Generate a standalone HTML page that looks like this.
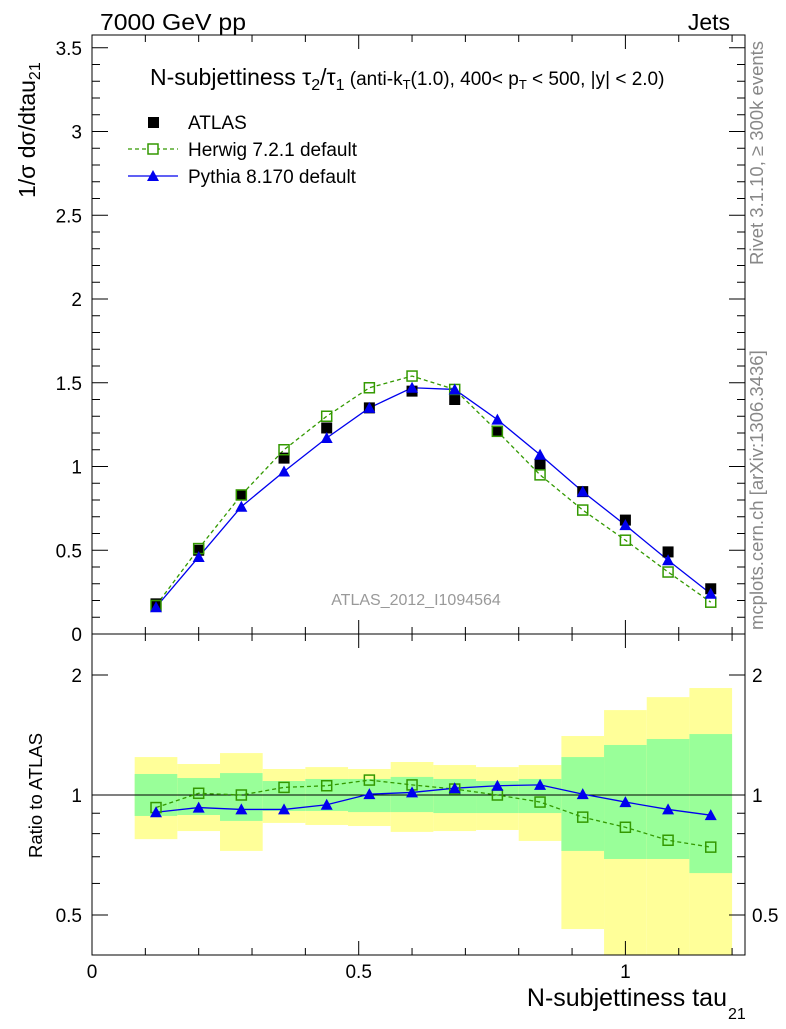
<!DOCTYPE html>
<html><head><meta charset="utf-8"><style>
body{margin:0;background:#fff;}
svg text{font-family:"Liberation Sans",sans-serif;}
</style></head><body>
<svg id="c" width="786" height="1024" xmlns="http://www.w3.org/2000/svg">
<g id="bands"></g><g id="grid"></g><g id="series"></g>
<text x="100" y="30" font-size="23" textLength="146" lengthAdjust="spacingAndGlyphs">7000 GeV pp</text>
<text x="730" y="30" font-size="23" text-anchor="end">Jets</text>
<text x="150" y="85" font-size="23">N-subjettiness τ<tspan font-size="16" dy="5">2</tspan><tspan dy="-5">/τ</tspan><tspan font-size="16" dy="5">1</tspan><tspan font-size="19" dy="-5"> (anti-k</tspan><tspan font-size="13" dy="4">T</tspan><tspan font-size="19" dy="-4">(1.0), 400&lt; p</tspan><tspan font-size="13" dy="4">T</tspan><tspan font-size="19" dy="-4"> &lt; 500, |y| &lt; 2.0)</tspan></text>
<rect x="148" y="117" width="11" height="11" fill="#000"/>
<text x="188" y="129" font-size="19">ATLAS</text>
<line x1="128" y1="149" x2="178" y2="149" stroke="#339900" stroke-dasharray="4,3" stroke-width="1.3"/>
<rect x="148" y="144" width="10" height="10" fill="#fff" stroke="#339900" stroke-width="1.5"/>
<text x="188" y="156" font-size="19">Herwig 7.2.1 default</text>
<line x1="128" y1="176" x2="178" y2="176" stroke="#0000ee" stroke-width="1.3"/>
<polygon points="153,170 159,181 147,181" fill="#0000ee"/>
<text x="188" y="183" font-size="19">Pythia 8.170 default</text>
<text x="416" y="605" font-size="16" fill="#999" text-anchor="middle">ATLAS_2012_I1094564</text>
<text transform="translate(763,265) rotate(-90)" font-size="18.5" fill="#888">Rivet 3.1.10, ≥ 300k events</text>
<text transform="translate(763,630) rotate(-90)" font-size="18.5" fill="#888">mcplots.cern.ch [arXiv:1306.3436]</text>
<text transform="translate(35,198) rotate(-90)" font-size="23">1/σ dσ/dtau<tspan font-size="16" dy="5">21</tspan></text>
<text transform="translate(42,858) rotate(-90)" font-size="18.5">Ratio to ATLAS</text>
<text x="727" y="1006" font-size="25" text-anchor="end">N-subjettiness tau</text>
<text x="728" y="1019" font-size="16">21</text>
</svg>
<script>
const xCenters=[0.12,0.2,0.28,0.36,0.44,0.52,0.6,0.68,0.76,0.84,0.92,1.0,1.08,1.16];
const atlas=[0.18,0.50,0.83,1.05,1.23,1.35,1.45,1.40,1.21,1.01,0.85,0.68,0.49,0.27];
const herwig=[0.17,0.51,0.83,1.10,1.30,1.47,1.54,1.46,1.21,0.95,0.74,0.56,0.37,0.19];
const pythia=[0.16,0.46,0.76,0.97,1.17,1.35,1.47,1.46,1.28,1.07,0.85,0.65,0.44,0.24];
const herwigRatio=[0.93,1.01,1.0,1.045,1.055,1.09,1.06,1.035,1.0,0.96,0.88,0.83,0.77,0.74];
const pythiaRatio=[0.905,0.93,0.92,0.92,0.945,1.005,1.015,1.04,1.055,1.06,1.005,0.96,0.92,0.89];
const yelHi=[1.245,1.196,1.274,1.162,1.175,1.162,1.21,1.189,1.175,1.189,1.406,1.633,1.76,1.855];
const yelLo=[0.775,0.812,0.724,0.851,0.841,0.836,0.808,0.812,0.817,0.767,0.461,0.35,0.35,0.35];
const grnHi=[1.129,1.103,1.135,1.084,1.097,1.097,1.11,1.097,1.084,1.097,1.245,1.335,1.382,1.422];
const grnLo=[0.886,0.891,0.861,0.912,0.912,0.906,0.906,0.901,0.901,0.901,0.724,0.691,0.691,0.637];
const xTicks=[0,0.5,1];
const yTicks=[0,0.5,1,1.5,2,2.5,3,3.5];
const rTicks=[0.5,1,2];
const binW=0.08;
const NS='http://www.w3.org/2000/svg';
const X0=92,X1=745,T=35,M=634,B=955;
const sx=v=>X0+v*533.4;
const sy=v=>M-v*167.5;
const sr=v=>{let y=795-Math.log2(v)*120;return Math.max(M,Math.min(B,y));};
function mk(tag,attrs,parent){const e=document.createElementNS(NS,tag);for(const k in attrs)e.setAttribute(k,attrs[k]);document.getElementById(parent).appendChild(e);return e;}
xCenters.forEach((c,i)=>{
 let r=mk('rect',{x:sx(c-binW/2),y:sr(yelHi[i]),width:sx(c+binW/2)-sx(c-binW/2),height:sr(yelLo[i])-sr(yelHi[i]),fill:'#ffff99'},'bands');
 
 
 let g=mk('rect',{x:sx(c-binW/2),y:sr(grnHi[i]),width:sx(c+binW/2)-sx(c-binW/2),height:sr(grnLo[i])-sr(grnHi[i]),fill:'#99ff99'},'bands');
 
 
});
mk('rect',{x:X0,y:T,width:X1-X0,height:M-T,fill:'none',stroke:'#000','stroke-width':1},'grid');
mk('rect',{x:X0,y:M,width:X1-X0,height:B-M,fill:'none',stroke:'#000','stroke-width':1},'grid');
mk('line',{x1:X0,x2:X1,y1:sr(1),y2:sr(1),stroke:'#000'},'grid');
for(let v=0;v<=1.22;v+=0.1){const maj=Math.abs(v*2-Math.round(v*2))<1e-6;const L=maj?14:7;const x=sx(v);
 [[M,M-L],[T,T+L],[B,B-L],[M,M+L]].forEach(p=>mk('line',{x1:x,x2:x,y1:p[0],y2:p[1],stroke:'#000'},'grid'));}
xTicks.forEach(v=>{const t=mk('text',{x:sx(v),y:978,'font-size':19,'text-anchor':'middle'},'grid');t.textContent=String(v);
 
 });
for(let v=0;v<=3.56;v+=0.1){const maj=Math.abs(v*2-Math.round(v*2))<1e-6;const L=maj?16:8;const y=sy(v);
 mk('line',{x1:X0,x2:X0+L,y1:y,y2:y,stroke:'#000'},'grid');mk('line',{x1:X1,x2:X1-L,y1:y,y2:y,stroke:'#000'},'grid');}
yTicks.forEach(v=>{const t=mk('text',{x:82,y:sy(v)+7,'font-size':19,'text-anchor':'end'},'grid');t.textContent=String(v);
 
 });
[0.5,0.6,0.7,0.8,0.9,1,2].forEach(v=>{const maj=rTicks.includes(v);const L=maj?16:8;const y=sr(v);
 mk('line',{x1:X0,x2:X0+L,y1:y,y2:y,stroke:'#000'},'grid');mk('line',{x1:X1,x2:X1-L,y1:y,y2:y,stroke:'#000'},'grid');});
rTicks.forEach(v=>{[[82,'end'],[752,'start']].forEach(p=>{const t=mk('text',{x:p[0],y:sr(v)+7,'font-size':19,'text-anchor':p[1]},'grid');t.textContent=String(v);
 
 });});
function line(vals,fy,color,dash,name){const d=xCenters.map((c,i)=>(i?'L':'M')+sx(c)+','+fy(vals[i])).join(' ');
 const p=mk('path',{d:d,fill:'none',stroke:color,'stroke-width':1.3,'stroke-dasharray':dash},'series');
 
 }
function squares(vals,fy,open,color,name){xCenters.forEach((c,i)=>{const s=open?10:11;
 const r=mk('rect',{x:sx(c)-s/2,y:fy(vals[i])-s/2,width:s,height:s,fill:open?'#fff':color,stroke:open?color:'none','stroke-width':1.5},'series');
 if(open)r.setAttribute('fill-opacity','0');
 
 });}
function tris(vals,fy,name){xCenters.forEach((c,i)=>{const x=sx(c),y=fy(vals[i]);
 const t=mk('polygon',{points:`${x},${y-6} ${x+6},${y+5} ${x-6},${y+5}`,fill:'#0000ee'},'series');
 
 });}
line(herwig,sy,'#339900','4,3','herwig-line');
line(pythia,sy,'#0000ee','none','pythia-line');
squares(atlas,sy,false,'#000','atlas-point');
squares(herwig,sy,true,'#339900','herwig-point');
tris(pythia,sy,'pythia-point');
line(herwigRatio,sr,'#339900','4,3','herwig-ratio-line');
line(pythiaRatio,sr,'#0000ee','none','pythia-ratio-line');
squares(herwigRatio,sr,true,'#339900','herwig-ratio-point');
tris(pythiaRatio,sr,'pythia-ratio-point');
</script>
</body></html>
